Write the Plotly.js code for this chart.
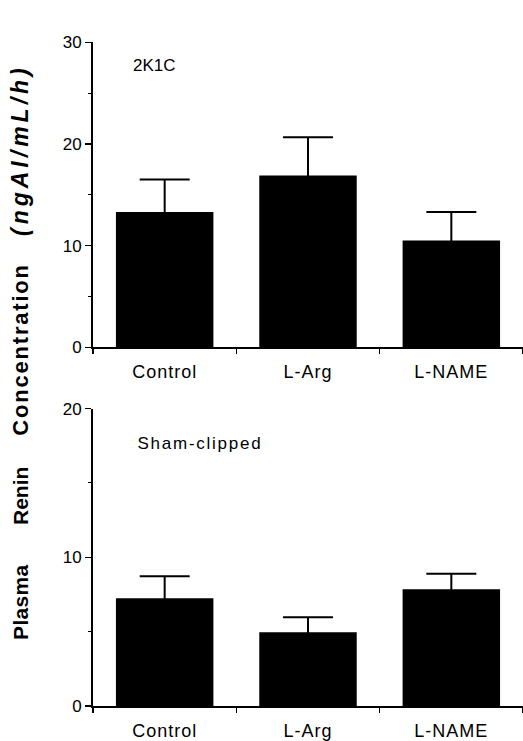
<!DOCTYPE html>
<html>
<head>
<meta charset="utf-8">
<script src="https://cdn.plot.ly/plotly-3.0.1.min.js"></script>
<style>
  html, body { margin: 0; padding: 0; background: #fff; }
  #chart { width: 523px; height: 741px; }
  .xtick text, .x2tick text { letter-spacing: 1px; }
</style>
</head>
<body>
<div id="chart"></div>
<script>
// Data
var categories = ["Control", "L-Arg", "L-NAME"];
var renin2K1C = [13.3, 16.9, 10.5];
var err2K1C = [3.2, 3.75, 2.8];
var reninSham = [7.24, 4.96, 7.85];
var errSham = [1.48, 1.0, 1.05];
var topTicks = [0, 10, 20, 30];
var bottomTicks = [0, 10, 20];

var W = 523, H = 741;
function px(x) { return x / W; }
function py(y) { return 1 - y / H; }

var errStyle = { type: 'data', symmetric: true, color: '#000', thickness: 2, width: 25, visible: true };

var traces = [
  {
    type: 'bar', x: categories, y: renin2K1C, xaxis: 'x', yaxis: 'y',
    width: 0.68, marker: { color: '#000', line: { width: 0 } },
    error_y: Object.assign({ array: err2K1C }, errStyle),
    hoverinfo: 'skip', showlegend: false
  },
  {
    type: 'bar', x: categories, y: reninSham, xaxis: 'x2', yaxis: 'y2',
    width: 0.68, marker: { color: '#000', line: { width: 0 } },
    error_y: Object.assign({ array: errSham }, errStyle),
    hoverinfo: 'skip', showlegend: false
  }
];

var tickFont = { family: 'Liberation Sans, Arial, sans-serif', size: 17, color: '#000' };
var catFont = { family: 'Liberation Sans, Arial, sans-serif', size: 18, color: '#000' };

var xCommon = {
  type: 'category', range: [-0.5, 2.5], domain: [px(93), 1],
  showline: true, linecolor: '#000', linewidth: 2,
  ticks: 'outside', tickson: 'boundaries', ticklen: 5, tickwidth: 1.5, tickcolor: '#000',
  ticklabelstandoff: 7,
  showgrid: false, zeroline: false, tickfont: catFont, fixedrange: true
};
var yCommon = {
  showline: true, linecolor: '#000', linewidth: 2,
  ticks: 'outside', ticklen: 6, tickwidth: 1.5, tickcolor: '#000',
  showgrid: false, zeroline: false, tickfont: tickFont, fixedrange: true,
  minor: { dtick: 5, ticks: 'outside', ticklen: 3, tickwidth: 1, tickcolor: '#000', showgrid: false }
};

function tf(size, extra) {
  return Object.assign({ family: 'Liberation Sans, Arial, sans-serif', size: size, color: '#000', weight: 'bold' }, extra || {});
}

var layout = {
  width: W, height: H,
  margin: { l: 0, r: 0, t: 0, b: 0 },
  paper_bgcolor: '#fff', plot_bgcolor: 'rgba(0,0,0,0)',
  showlegend: false,
  xaxis: Object.assign({}, xCommon, { anchor: 'y' }),
  yaxis: Object.assign({}, yCommon, {
    anchor: 'x', domain: [py(347.3), py(42.3)], range: [0, 30],
    tickvals: topTicks, ticktext: topTicks.map(String)
  }),
  xaxis2: Object.assign({}, xCommon, { anchor: 'y2' }),
  yaxis2: Object.assign({}, yCommon, {
    anchor: 'x2', domain: [py(706), py(408.6)], range: [0, 20],
    tickvals: bottomTicks, ticktext: bottomTicks.map(String)
  }),
  annotations: [
    { text: '2K1C', xref: 'paper', yref: 'paper', x: px(131), y: py(66), xanchor: 'left', yanchor: 'middle',
      showarrow: false, font: { family: 'Liberation Sans, Arial, sans-serif', size: 17, color: '#000' } },
    { text: 'Sham-clipped', xref: 'paper', yref: 'paper', x: px(146), y: py(443), xanchor: 'left', yanchor: 'middle',
      showarrow: false, font: { family: 'Liberation Sans, Arial, sans-serif', size: 17, color: '#000' } },
    { text: 'Plasma', xref: 'paper', yref: 'paper', x: px(20), y: py(602), xanchor: 'center', yanchor: 'middle',
      textangle: -90, showarrow: false, font: tf(21) },
    { text: 'Renin', xref: 'paper', yref: 'paper', x: px(20), y: py(496), xanchor: 'center', yanchor: 'middle',
      textangle: -90, showarrow: false, font: tf(21) },
    { text: 'Concentration', xref: 'paper', yref: 'paper', x: px(20), y: py(350), xanchor: 'center', yanchor: 'middle',
      textangle: -90, showarrow: false, font: tf(22) },
    { text: '<i>(ngAI/mL/h)</i>', xref: 'paper', yref: 'paper', x: px(20), y: py(150), xanchor: 'center', yanchor: 'middle',
      textangle: -90, showarrow: false, font: tf(23) }
  ]
};

var spacing = [null, '1.75px', '0.3px', '0px', '1.8px', '4px'];

Plotly.newPlot('chart', traces, layout, { staticPlot: true, displayModeBar: false }).then(function () {
  var nodes = document.querySelectorAll('.annotation-text');
  nodes.forEach(function (n, i) {
    if (spacing[i]) {
      n.style.letterSpacing = spacing[i];
      n.setAttribute('letter-spacing', spacing[i]);
    }
  });
});
</script>
</body>
</html>
